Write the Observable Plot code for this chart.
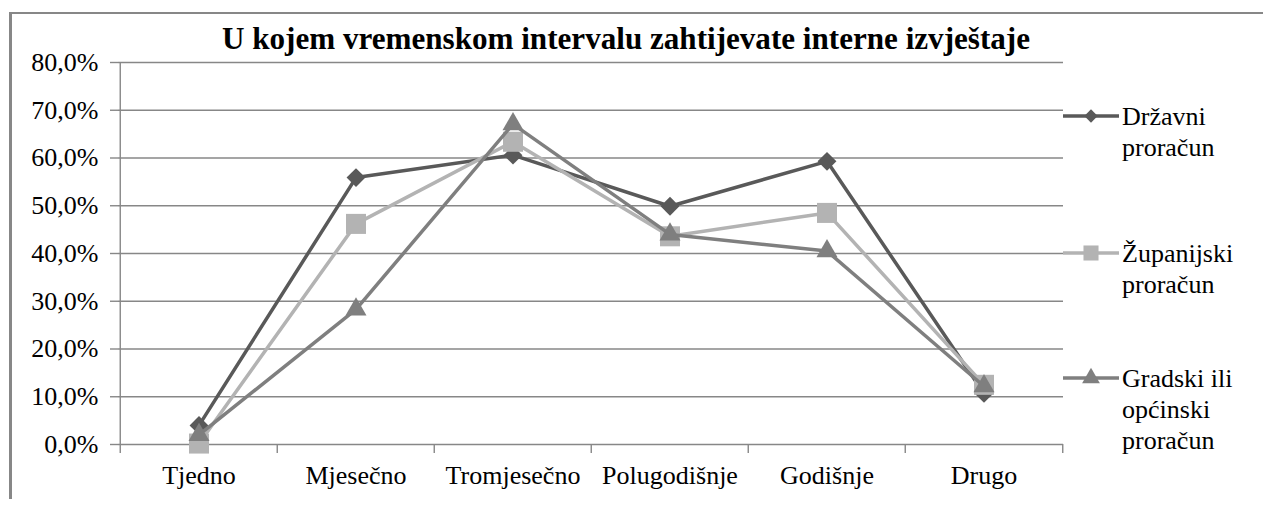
<!DOCTYPE html>
<html>
<head>
<meta charset="utf-8">
<script src="https://cdn.jsdelivr.net/npm/d3@7"></script>
<script src="https://cdn.jsdelivr.net/npm/@observablehq/plot@0.6"></script>
<style>
  body { margin: 0; background: #fff; }
  #wrap { position: relative; width: 1263px; height: 505px; overflow: hidden; font-family: "Liberation Serif", Tinos, "DejaVu Serif", serif; }
  #frame { position: absolute; left: 9px; top: 12px; width: 1400px; height: 485px; border-left: 3px solid #878787; border-top: 2px solid #878787; }
  #chart { position: absolute; left: 0; top: 0; }
  #title { position: absolute; left: 222px; top: 22px; font-size: 31px; font-weight: bold; line-height: 34px; white-space: nowrap; transform-origin: 0 0; color: #000; }
  .leg { position: absolute; left: 1063px; height: 100px; }
  .leg svg { position: absolute; left: 0; top: 0; overflow: visible; }
  .leg .txt { position: absolute; left: 59px; top: 0; font-size: 26px; line-height: 31px; color: #000; white-space: nowrap; }
</style>
</head>
<body>
<div id="wrap">
  <div id="frame"></div>
  <div id="chart"></div>
  <div id="title"></div>
  <div id="legend"></div>
</div>
<script>
// ---- data ----
const titleText = "U kojem vremenskom intervalu zahtijevate interne izvještaje";
const categories = ["Tjedno", "Mjesečno", "Tromjesečno", "Polugodišnje", "Godišnje", "Drugo"];
const seriesNames = ["Državni\nproračun", "Županijski\nproračun", "Gradski ili\nopćinski\nproračun"];
const drzavni = [4.0, 55.9, 60.6, 49.9, 59.3, 10.7];
const zupanijski = [0.2, 46.2, 63.4, 43.6, 48.5, 12.5];
const gradski = [2.0, 28.3, 67.1, 44.0, 40.5, 12.2];
const yTicks = [0, 10, 20, 30, 40, 50, 60, 70, 80];

// ---- styles ----
const fontStack = '"Liberation Serif", Tinos, "DejaVu Serif", serif';
const colors = ["#595959", "#b3b3b3", "#7f7f7f"];
const symbols = ["diamond2", "square", "triangle"];
const radii = [8.5, 11.3, 7.8];
const legendRadii = [6, 8.5, 6.6];
const legendY = [116, 253, 378];
const gridColor = "#878787";

const W = 1263, H = 505, ML = 118, MR = 200, MT = 62, MB = 61;
const step = (W - ML - MR) / categories.length;

const values = [drzavni, zupanijski, gradski];
const rows = values.map((vals, s) => categories.map((c, i) => ({cat: c, value: vals[i], s})));

const fmt = d => d.toFixed(1).replace(".", ",") + "%";

const seriesMarks = [];
rows.forEach((r, s) => {
  seriesMarks.push(Plot.line(r, {x: "cat", y: "value", stroke: colors[s], strokeWidth: 3.5, strokeLinejoin: "miter"}));
  seriesMarks.push(Plot.dot(r, {x: "cat", y: "value", symbol: symbols[s], r: radii[s], fill: colors[s], stroke: "none"}));
});

const chart = Plot.plot({
  width: W, height: H,
  marginLeft: ML, marginRight: MR, marginTop: MT, marginBottom: MB,
  style: {fontFamily: fontStack, fontSize: "26px", color: "#000", background: "transparent", overflow: "visible"},
  x: {type: "band", domain: categories, padding: 0, label: null},
  y: {domain: [0, 80], label: null},
  marks: [
    Plot.ruleY(yTicks, {stroke: gridColor, strokeWidth: 1.4}),
    Plot.ruleX([categories[0]], {dx: -step / 2, y1: 0, y2: 80, stroke: gridColor, strokeWidth: 1.4}),
    Plot.ruleX(categories, {dx: -step / 2, y1: 0, y2: 0, insetBottom: -9, stroke: gridColor, strokeWidth: 1.4}),
    Plot.ruleX([categories[categories.length - 1]], {dx: step / 2, y1: 0, y2: 0, insetBottom: -9, stroke: gridColor, strokeWidth: 1.4}),
    Plot.axisY({ticks: yTicks, tickSize: 8, tickPadding: 12, tickFormat: fmt, stroke: gridColor, strokeWidth: 1.4, fill: "#000", fontFamily: fontStack}),
    Plot.axisX({tickSize: 0, tickPadding: 21, fill: "#000", fontFamily: fontStack}),
    ...seriesMarks
  ]
});
document.getElementById("chart").appendChild(chart);

// ---- title ----
const t = document.getElementById("title");
t.textContent = titleText;
const tw = t.getBoundingClientRect().width;
t.style.transform = `scaleX(${808 / tw})`;

// ---- legend ----
const legend = d3.select("#legend");
const typeMap = {diamond2: d3.symbolDiamond2, square: d3.symbolSquare, triangle: d3.symbolTriangle};
seriesNames.forEach((name, s) => {
  const row = legend.append("div").attr("class", "leg").style("top", (legendY[s] - 15) + "px");
  const svg = row.append("svg").attr("width", 56).attr("height", 30);
  svg.append("line").attr("x1", 0).attr("x2", 56).attr("y1", 15).attr("y2", 15)
    .attr("stroke", colors[s]).attr("stroke-width", 3.5);
  svg.append("path")
    .attr("d", d3.symbol(typeMap[symbols[s]], Math.PI * legendRadii[s] ** 2)())
    .attr("transform", "translate(28,15)")
    .attr("fill", colors[s]);
  const txt = row.append("div").attr("class", "txt");
  name.split("\n").forEach(line => txt.append("div").text(line));
});
</script>
</body>
</html>
